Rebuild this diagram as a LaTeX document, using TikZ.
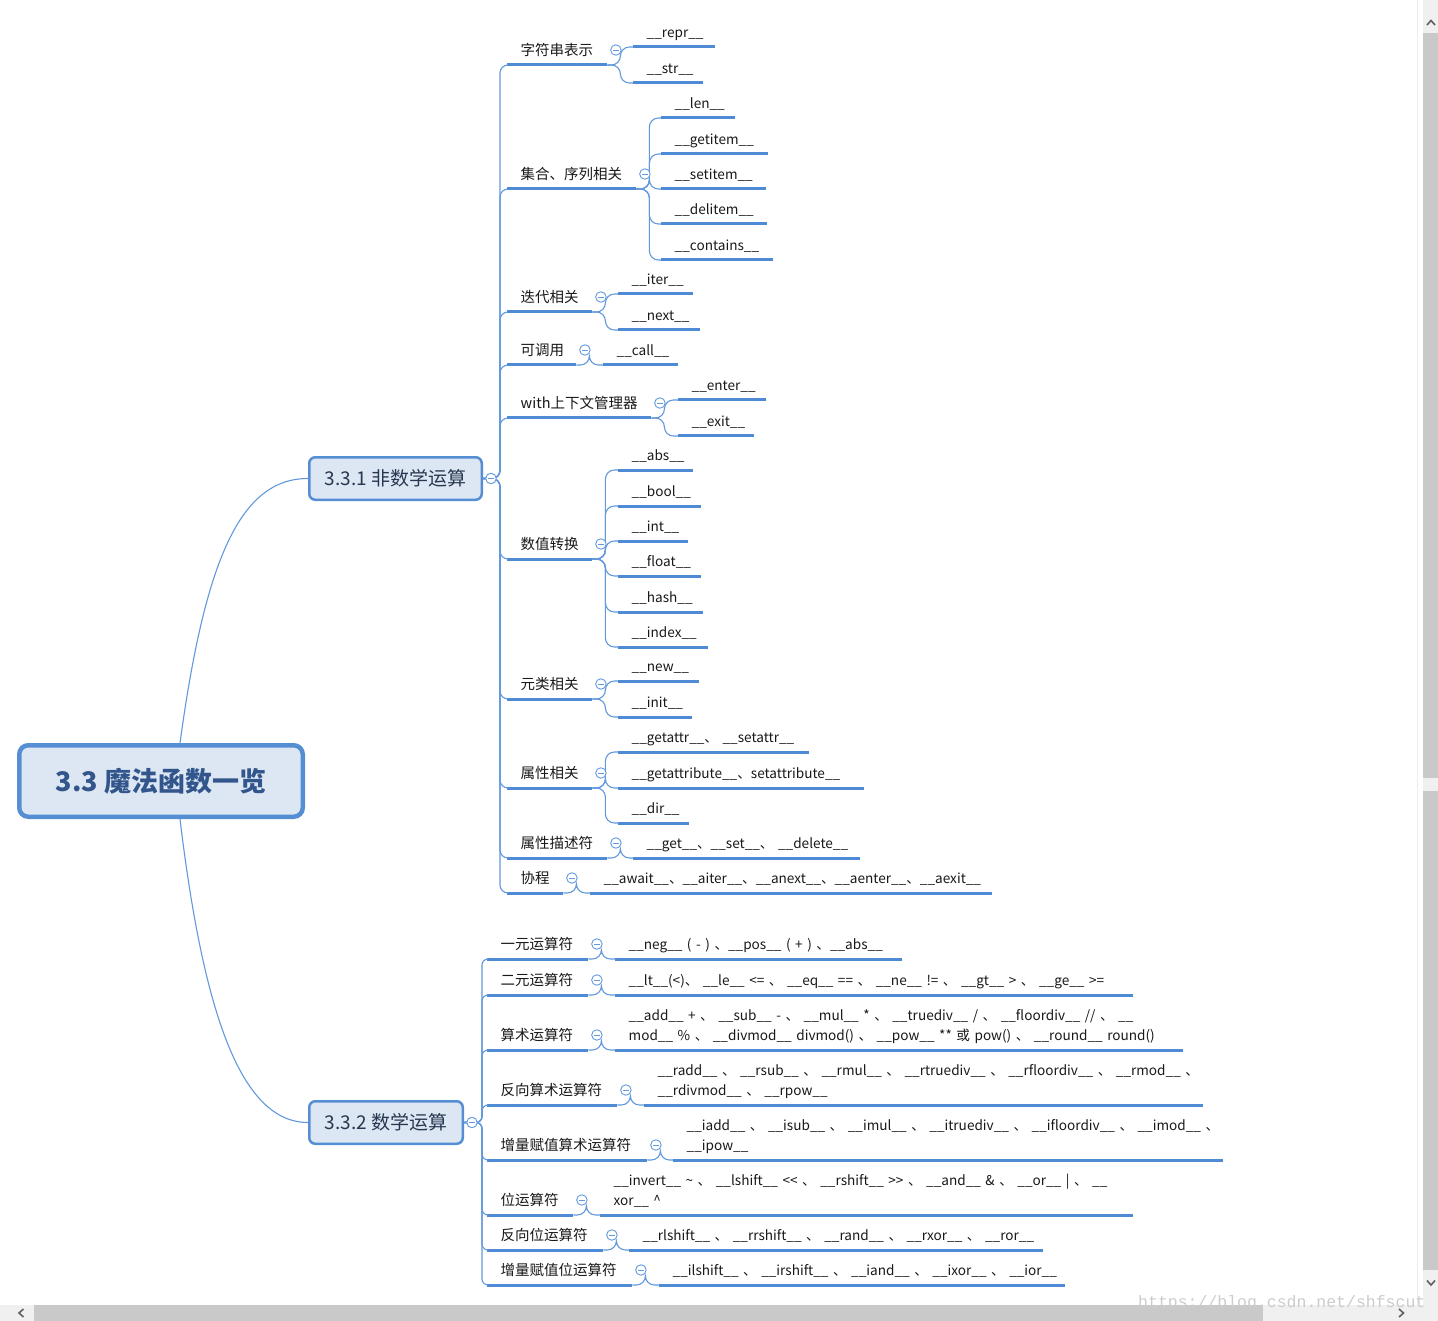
\documentclass[tikz,border=0pt]{standalone}
\usepackage{fontspec}
\setmainfont{Noto Sans CJK SC}
\newfontfamily\wmfont{Liberation Mono}
\usetikzlibrary{calc}
\definecolor{lb}{RGB}{79,138,213}
\definecolor{lbc}{RGB}{98,153,221}
\definecolor{boxfill}{RGB}{221,231,244}
\definecolor{boxline}{RGB}{86,142,212}
\definecolor{roottxt}{RGB}{50,86,140}
\definecolor{subtxt}{RGB}{40,55,80}
\definecolor{txt}{RGB}{25,25,25}
\newcommand\mmtopic[6][]{%
  \pgfmathsetmacro\tw{#4-#3-27}%
  \node[topic, #1, text width=\tw pt, anchor=south west] (#2) at (#3,#5) {#6};
  \draw[ul] (#2.south west) -- (#2.south east);}
\newcommand\mmfold[1]{\node[fold] (f-#1) at ($(#1.south east)+(8.5,-15)$) {};}
\newcommand\mmlink[2]{\draw[conn] (#1.south east) -- ++(13,0) |- (#2.south west);}
\begin{document}
\begin{tikzpicture}[x=1pt,y=-1pt,
  topic/.style={inner xsep=13.5pt, inner ysep=9.5pt, text depth=0pt, align=left, text=txt, font=\fontsize{14.5}{19.5}\selectfont},
  leaf/.style={font=\fontsize{13.6}{19.5}\selectfont},
  twoline/.style={leaf, text depth=19.5pt},
  ul/.style={draw=lb, line width=3pt},
  conn/.style={draw=lbc, line width=1.1pt, rounded corners=9pt},
  connA/.style={draw=lbc, line width=1.1pt, rounded corners=8pt},
  connB/.style={draw=lbc, line width=1.1pt, rounded corners=6pt},
  rootconn/.style={draw=lbc, line width=1.1pt},
  fold/.style={circle, draw=lbc, fill=white, line width=0.9pt, minimum size=10.5pt, inner sep=0pt,
    path picture={\draw[lbc, line width=0.9pt] ($(path picture bounding box.center)+(-2.6,0)$) -- ++(5.2,0);}},
  rootbox/.style={draw=boxline, line width=4.5pt, fill=boxfill, rounded corners=9pt, minimum width=283.5pt, minimum height=71.5pt, inner sep=0pt, text=roottxt, font=\fontsize{27}{30}\selectfont\bfseries},
  subbox/.style={draw=boxline, line width=2.5pt, fill=boxfill, rounded corners=6pt, minimum height=42.5pt, inner sep=0pt, text=subtxt, font=\fontsize{19}{22}\selectfont},
  sbtrack/.style={fill=black!6},
  sbthumb/.style={fill=black!21},
  sbarrow/.style={draw=black!62, line width=1.6pt}
]
\useasboundingbox (0,0) rectangle (1438,1321);
\fill[white] (0,0) rectangle (1438,1321);

% main nodes
\node[rootbox] (root) at (161,781) {3.3 魔法函数一览};
\node[subbox, minimum width=172.5pt] (n1) at (395.5,478.5) {3.3.1 非数学运算};
\node[subbox, minimum width=153.5pt] (n2) at (386,1122.5) {3.3.2 数学运算};

% level 2 under 3.3.1
\mmtopic{a1}{507}{607}{65}{字符串表示}
\mmtopic{a2}{507}{636}{189}{集合、序列相关}
\mmtopic{a3}{507}{592}{312}{迭代相关}
\mmtopic{a4}{507}{576}{365}{可调用}
\mmtopic{a5}{507}{651}{418}{with上下文管理器}
\mmtopic{a6}{507}{592}{559}{数值转换}
\mmtopic{a7}{507}{592}{699}{元类相关}
\mmtopic{a8}{507}{592}{788}{属性相关}
\mmtopic{a9}{507}{607}{858}{属性描述符}
\mmtopic{a10}{507}{563}{893}{协程}

% level 3 under 3.3.1
\mmtopic[leaf]{a1a}{633}{715}{47}{\_\_repr\_\_}
\mmtopic[leaf]{a1b}{633}{703}{83}{\_\_str\_\_}
\mmtopic[leaf]{a2a}{661}{735}{118}{\_\_len\_\_}
\mmtopic[leaf]{a2b}{661}{768}{154}{\_\_getitem\_\_}
\mmtopic[leaf]{a2c}{661}{766}{189}{\_\_setitem\_\_}
\mmtopic[leaf]{a2d}{661}{767}{224}{\_\_delitem\_\_}
\mmtopic[leaf]{a2e}{661}{773}{260}{\_\_contains\_\_}
\mmtopic[leaf]{a3a}{618}{693}{294}{\_\_iter\_\_}
\mmtopic[leaf]{a3b}{618}{700}{330}{\_\_next\_\_}
\mmtopic[leaf]{a4a}{603}{678}{365}{\_\_call\_\_}
\mmtopic[leaf]{a5a}{678}{766}{400}{\_\_enter\_\_}
\mmtopic[leaf]{a5b}{678}{754}{436}{\_\_exit\_\_}
\mmtopic[leaf]{a6a}{618}{693}{470}{\_\_abs\_\_}
\mmtopic[leaf]{a6b}{618}{701}{506}{\_\_bool\_\_}
\mmtopic[leaf]{a6c}{618}{688}{541}{\_\_int\_\_}
\mmtopic[leaf]{a6d}{618}{701}{576}{\_\_float\_\_}
\mmtopic[leaf]{a6e}{618}{703}{612}{\_\_hash\_\_}
\mmtopic[leaf]{a6f}{618}{708}{647}{\_\_index\_\_}
\mmtopic[leaf]{a7a}{618}{699}{681}{\_\_new\_\_}
\mmtopic[leaf]{a7b}{618}{692}{717}{\_\_init\_\_}
\mmtopic[leaf]{a8a}{618}{809}{752}{\mbox{\_\_getattr\_\_、 \_\_setattr\_\_}}
\mmtopic[leaf]{a8b}{618}{864}{788}{\mbox{\_\_getattribute\_\_、setattribute\_\_}}
\mmtopic[leaf]{a8c}{618}{689}{823}{\_\_dir\_\_}
\mmtopic[leaf]{a9a}{633}{860}{858}{\mbox{\_\_get\_\_、\_\_set\_\_、 \_\_delete\_\_}}
\mmtopic[leaf]{a10a}{590}{992}{893}{\mbox{\_\_await\_\_、\_\_aiter\_\_、\_\_anext\_\_、\_\_aenter\_\_、\_\_aexit\_\_}}

% level 2 under 3.3.2
\mmtopic{b1}{487}{588}{959}{一元运算符}
\mmtopic{b2}{487}{588}{995}{二元运算符}
\mmtopic{b3}{487}{588}{1050}{算术运算符}
\mmtopic{b4}{487}{617}{1105}{反向算术运算符}
\mmtopic{b5}{487}{647}{1160}{增量赋值算术运算符}
\mmtopic{b6}{487}{573}{1215}{位运算符}
\mmtopic{b7}{487}{603}{1250}{反向位运算符}
\mmtopic{b8}{487}{632}{1285}{增量赋值位运算符}

% level 3 under 3.3.2
\mmtopic[leaf]{b1a}{615}{902}{959}{\mbox{\_\_neg\_\_ ( - ) 、\_\_pos\_\_ ( + ) 、\_\_abs\_\_}}
\mmtopic[leaf]{b2a}{615}{1133}{995}{\mbox{\_\_lt\_\_(<)、 \_\_le\_\_ <= 、 \_\_eq\_\_ == 、 \_\_ne\_\_ != 、 \_\_gt\_\_ > 、 \_\_ge\_\_ >=}}
\mmtopic[twoline]{b3a}{615}{1183}{1050}{\mbox{\_\_add\_\_ + 、 \_\_sub\_\_ - 、 \_\_mul\_\_ * 、 \_\_truediv\_\_ / 、 \_\_floordiv\_\_ // 、 \_\_}\\\mbox{mod\_\_ \% 、 \_\_divmod\_\_ divmod() 、 \_\_pow\_\_ ** 或 pow() 、 \_\_round\_\_ round()}}
\mmtopic[twoline]{b4a}{644}{1203}{1105}{\mbox{\_\_radd\_\_ 、 \_\_rsub\_\_ 、 \_\_rmul\_\_ 、 \_\_rtruediv\_\_ 、 \_\_rfloordiv\_\_ 、 \_\_rmod\_\_ 、}\\\mbox{\_\_rdivmod\_\_ 、 \_\_rpow\_\_}}
\mmtopic[twoline]{b5a}{673}{1223}{1160}{\mbox{\_\_iadd\_\_ 、 \_\_isub\_\_ 、 \_\_imul\_\_ 、 \_\_itruediv\_\_ 、 \_\_ifloordiv\_\_ 、 \_\_imod\_\_ 、}\\\mbox{\_\_ipow\_\_}}
\mmtopic[twoline]{b6a}{600}{1133}{1215}{\mbox{\_\_invert\_\_ \textasciitilde{} 、 \_\_lshift\_\_ <{}< 、 \_\_rshift\_\_ >{}> 、 \_\_and\_\_ \& 、 \_\_or\_\_ | 、 \_\_}\\\mbox{xor\_\_ \textasciicircum}}
\mmtopic[leaf]{b7a}{629}{1043}{1250}{\mbox{\_\_rlshift\_\_ 、 \_\_rrshift\_\_ 、 \_\_rand\_\_ 、 \_\_rxor\_\_ 、 \_\_ror\_\_}}
\mmtopic[leaf]{b8a}{659}{1065}{1285}{\mbox{\_\_ilshift\_\_ 、 \_\_irshift\_\_ 、 \_\_iand\_\_ 、 \_\_ixor\_\_ 、 \_\_ior\_\_}}

% connectors root -> level 1
\draw[rootconn] ([xshift=19pt]root.north) .. controls (205,560) and (240,478.5) .. (n1.west);
\draw[rootconn] ([xshift=19pt]root.south) .. controls (203,1010) and (240,1122.5) .. (n2.west);

% level 1 -> level 2
\foreach \c in {a1,a2,a3,a4,a5,a6,a7,a8,a9,a10}
  \draw[connA] (n1.east) -- ++(17,0) |- (\c.south west);
\foreach \c in {b1,b2,b3,b4,b5,b6,b7,b8}
  \draw[connB] (n2.east) -- ++(18,0) |- (\c.south west);

% level 2 -> level 3
\mmlink{a1}{a1a}\mmlink{a1}{a1b}
\foreach \c in {a2a,a2b,a2c,a2d,a2e} {\mmlink{a2}{\c}}
\mmlink{a3}{a3a}\mmlink{a3}{a3b}
\mmlink{a4}{a4a}
\mmlink{a5}{a5a}\mmlink{a5}{a5b}
\foreach \c in {a6a,a6b,a6c,a6d,a6e,a6f} {\mmlink{a6}{\c}}
\mmlink{a7}{a7a}\mmlink{a7}{a7b}
\mmlink{a8}{a8a}\mmlink{a8}{a8b}\mmlink{a8}{a8c}
\mmlink{a9}{a9a}
\mmlink{a10}{a10a}
\foreach \c in {b1,b2,b3,b4,b5,b6,b7,b8} {\mmlink{\c}{\c a}}

% collapse buttons
\node[fold] (f-n1) at ([xshift=8pt]n1.east) {};
\node[fold] (f-n2) at ([xshift=8pt]n2.east) {};
\foreach \c in {a1,a2,a3,a4,a5,a6,a7,a8,a9,a10,b1,b2,b3,b4,b5,b6,b7,b8} {\mmfold{\c}}

% scrollbars
\draw[black!7, line width=0.8pt] (1417.5,0) -- (1417.5,1305);
\fill[sbtrack] (1423,0) rectangle (1438,1321);
\fill[sbtrack] (0,1305) rectangle (1438,1321);
\fill[sbthumb] (1423,33) rectangle (1438,778);
\fill[sbthumb] (1423,791) rectangle (1438,1270);
\fill[sbthumb] (34,1305) rectangle (1263,1321);
\draw[sbarrow] (1427,25) -- (1431,20.5) -- (1435,25);
\draw[sbarrow] (1427,1280.5) -- (1431,1285) -- (1435,1280.5);
\draw[sbarrow] (23.5,1309) -- (19,1313) -- (23.5,1317);
\draw[sbarrow] (1399,1309) -- (1403.5,1313) -- (1399,1317);

% watermark
\node[anchor=base west, inner sep=0pt, text=black!20, font=\wmfont\fontsize{16.5}{17}\selectfont] (wm) at (1138,1307) {https://blog.csdn.net/shfscut};
\end{tikzpicture}
\end{document}
